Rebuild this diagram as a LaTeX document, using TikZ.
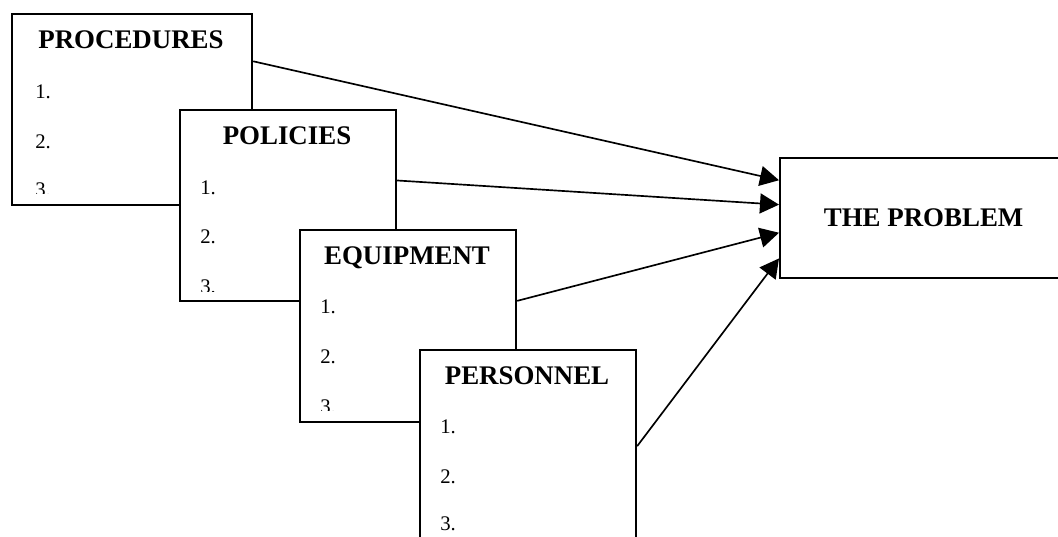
\documentclass[tikz,border=0pt]{standalone}
\usepackage{fontspec}
\setmainfont{Liberation Serif}
\usetikzlibrary{arrows.meta, calc}

\tikzset{
  card/.style={draw, fill=white, line width=1.25pt, inner sep=0pt, anchor=north west},
  head/.style={font=\fontsize{15.3}{18}\selectfont\bfseries, anchor=base},
  item/.style={font=\fontsize{11.8}{14}\selectfont, anchor=base west, inner sep=0pt},
  link/.style={line width=0.95pt, -{Triangle[length=3.8mm, width=4mm]}},
}

\begin{document}
\begin{tikzpicture}[x=0.2mm, y=-0.2mm]
\clip (0,0) rectangle (1058,536);
% procedures
\node[card, minimum width=48mm, minimum height=38.2mm] (proc) at (11,13) {};
\begin{scope}
\clip (11,13) rectangle (251,193);
\node[head] (proctitle) at (131,48) {PROCEDURES};
\node[item] (proc1) at (35,98) {1.};
\node[item] (proc2) at (35,148) {2.};
\node[item] (proc3) at (35,196) {3.};
\end{scope}
% policies
\node[card, minimum width=43.2mm, minimum height=38.2mm] (poli) at (179,109) {};
\begin{scope}
\clip (179,109) rectangle (395,291);
\node[head] (polititle) at (287,144) {POLICIES};
\node[item] (poli1) at (200,194) {1.};
\node[item] (poli2) at (200,243) {2.};
\node[item] (poli3) at (200,293) {3.};
\end{scope}
% equipment
\node[card, minimum width=43.2mm, minimum height=38.4mm] (equi) at (299,229) {};
\begin{scope}
\clip (299,229) rectangle (515,410);
\node[head] (equititle) at (407,264) {EQUIPMENT};
\node[item] (equi1) at (320,313) {1.};
\node[item] (equi2) at (320,363) {2.};
\node[item] (equi3) at (320,413) {3.};
\end{scope}
% personnel
\node[card, minimum width=43.2mm, minimum height=38.4mm] (pers) at (419,349) {};
\node[head] (perstitle) at (527,384) {PERSONNEL};
\node[item] (pers1) at (440,433) {1.};
\node[item] (pers2) at (440,483) {2.};
\node[item] (pers3) at (440,530) {3.};
% the problem
\node[card, minimum width=57.4mm, minimum height=24mm, font=\fontsize{15.3}{18}\selectfont\bfseries] (prob) at (779,157) {THE PROBLEM};
% arrows
\draw[link] ($(proc.north east)!0.25!(proc.south east)$) -- ($(prob.north west)!0.19!(prob.south west)$);
\draw[link] ($(poli.north east)!0.37!(poli.south east)$) -- ($(prob.north west)!0.39!(prob.south west)$);
\draw[link] ($(equi.north east)!0.37!(equi.south east)$) -- ($(prob.north west)!0.62!(prob.south west)$);
\draw[link] (pers.east) -- ($(prob.north west)!0.83!(prob.south west)$);
\end{tikzpicture}
\end{document}
